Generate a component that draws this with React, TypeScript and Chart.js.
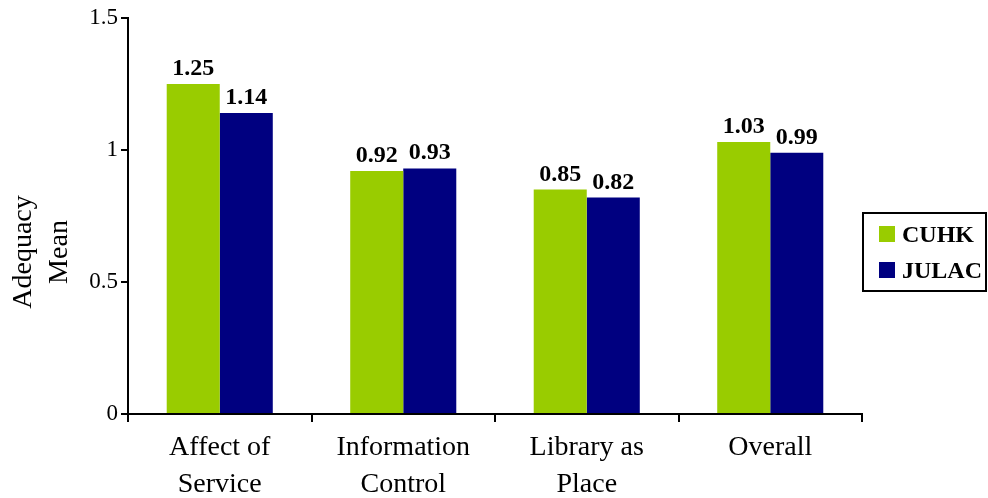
import React, { useEffect, useRef } from "react";
import { Chart, registerables } from "chart.js";

Chart.register(...registerables);

const categories: string[][] = [
  ["Affect of", "Service"],
  ["Information", "Control"],
  ["Library as", "Place"],
  ["Overall"],
];
const cuhkValues = [1.25, 0.92, 0.85, 1.03];
const julacValues = [1.14, 0.93, 0.82, 0.99];
const seriesNames = ["CUHK", "JULAC"];
const seriesColors = ["#99CC00", "#000080"];
const yTitle = ["Adequacy", "Mean"];

const SERIF = "'Liberation Serif', 'Times New Roman', serif";

const valueLabels = {
  id: "valueLabels",
  afterDatasetsDraw(chart: any) {
    const ctx = chart.ctx;
    ctx.save();
    ctx.font = `bold 24px ${SERIF}`;
    ctx.fillStyle = "#000";
    ctx.textAlign = "center";
    ctx.textBaseline = "alphabetic";
    chart.data.datasets.forEach((ds: any, di: number) => {
      const meta = chart.getDatasetMeta(di);
      meta.data.forEach((bar: any, i: number) => {
        ctx.fillText(ds.data[i].toFixed(2), bar.x, bar.y - 9);
      });
    });
    ctx.restore();
  },
};

const yTitlePlugin = {
  id: "yTitlePlugin",
  afterDraw(chart: any) {
    const ctx = chart.ctx;
    ctx.save();
    ctx.font = `28px ${SERIF}`;
    ctx.fillStyle = "#000";
    ctx.textAlign = "center";
    ctx.textBaseline = "alphabetic";
    const cy = 252;
    yTitle.forEach((t, i) => {
      ctx.save();
      ctx.translate(31 + i * 36, cy);
      ctx.rotate(-Math.PI / 2);
      ctx.fillText(t, 0, 0);
      ctx.restore();
    });
    ctx.restore();
  },
};

const boxLegend = {
  id: "boxLegend",
  afterDraw(chart: any) {
    const ctx = chart.ctx;
    const left = chart.chartArea.right + 1;
    const top = 213;
    const w = 123;
    const h = 78;
    ctx.save();
    ctx.strokeStyle = "#000";
    ctx.lineWidth = 2;
    ctx.strokeRect(left, top, w, h);
    ctx.font = `bold 24px ${SERIF}`;
    ctx.textAlign = "left";
    ctx.textBaseline = "alphabetic";
    chart.data.datasets.forEach((ds: any, di: number) => {
      const sy = top + 13 + di * 36;
      ctx.fillStyle = ds.backgroundColor;
      ctx.fillRect(left + 16, sy, 16, 16);
      ctx.fillStyle = "#000";
      ctx.fillText(ds.label, left + 39, sy + 16);
    });
    ctx.restore();
  },
};

export default function App() {
  const ref = useRef<HTMLCanvasElement | null>(null);
  useEffect(() => {
    if (!ref.current) return;
    const chart = new Chart(ref.current, {
      type: "bar",
      data: {
        labels: categories,
        datasets: [
          {
            label: seriesNames[0],
            data: cuhkValues,
            backgroundColor: seriesColors[0],
            categoryPercentage: 0.578,
            barPercentage: 1,
          },
          {
            label: seriesNames[1],
            data: julacValues,
            backgroundColor: seriesColors[1],
            categoryPercentage: 0.578,
            barPercentage: 1,
          },
        ],
      },
      options: {
        responsive: false,
        animation: false,
        layout: { padding: { top: 18, right: 126, left: 0, bottom: 0 } },
        plugins: {
          legend: { display: false },
          tooltip: { enabled: false },
        },
        scales: {
          x: {
            grid: {
              display: true,
              drawOnChartArea: false,
              drawTicks: true,
              tickLength: 8,
              color: "#000",
              lineWidth: 2,
              offset: true,
            },
            border: { display: true, color: "#000", width: 2 },
            ticks: {
              color: "#000",
              font: { family: SERIF, size: 28, lineHeight: "37px" },
              padding: 7,
              maxRotation: 0,
              autoSkip: false,
            },
            afterFit(scale: any) {
              scale.height = 84;
            },
          },
          y: {
            min: 0,
            max: 1.5,
            grid: {
              display: true,
              drawOnChartArea: false,
              drawTicks: true,
              tickLength: 7,
              color: "#000",
              lineWidth: 2,
            },
            border: { display: true, color: "#000", width: 2 },
            ticks: {
              stepSize: 0.5,
              color: "#000",
              font: { family: SERIF, size: 23 },
              padding: 3,
              callback: (v: any) => String(Number(v)),
            },
            afterFit(scale: any) {
              scale.width = 128;
            },
          },
        },
      },
      plugins: [valueLabels, yTitlePlugin, boxLegend],
    });
    return () => chart.destroy();
  }, []);
  return (
    <div style={{ position: "fixed", left: 0, top: 0, width: 988, height: 498, background: "#fff" }}>
      <canvas ref={ref} width={988} height={498} style={{ display: "block" }} />
    </div>
  );
}
